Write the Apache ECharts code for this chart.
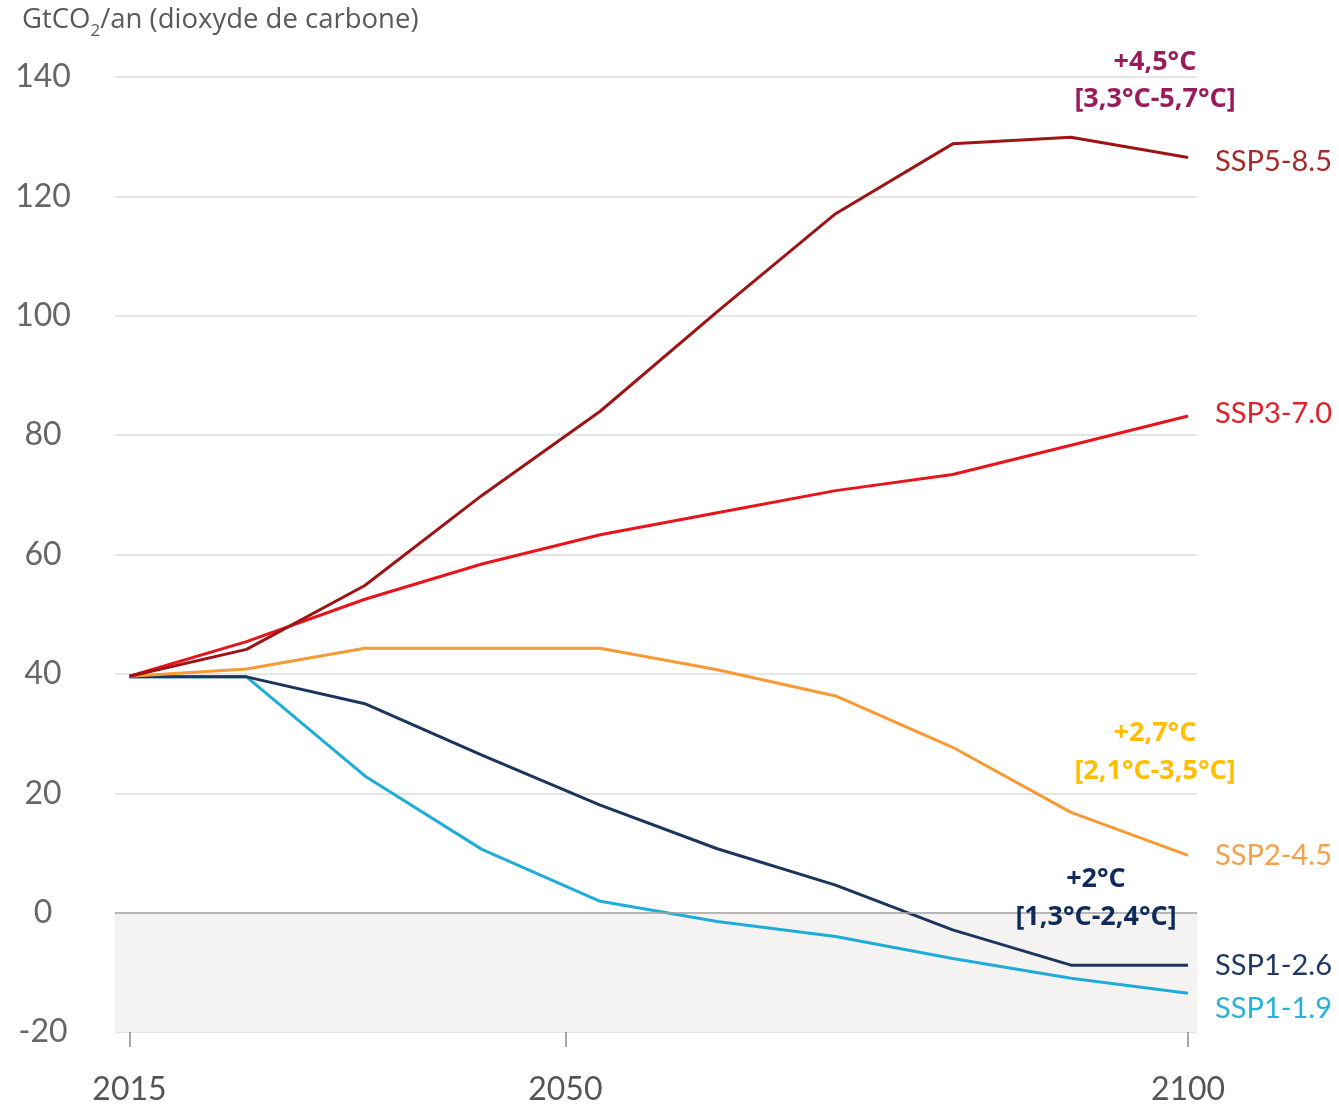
<!DOCTYPE html>
<html>
<head>
<meta charset="utf-8">
<script src="https://cdn.jsdelivr.net/npm/echarts@6/dist/echarts.min.js"></script>
<style>
  html, body { margin: 0; padding: 0; background: #fff; }
  #chart { width: 1339px; height: 1106px; }
</style>
</head>
<body>
<div id="chart"></div>
<script>
// years of the points (points are evenly spaced in the picture)
var years = [2015, 2024.4, 2033.9, 2043.3, 2052.8, 2062.2, 2071.7, 2081.1, 2090.6, 2100];

// GtCO2 / an
var ssp585 = [39.6, 44.1, 54.8, 69.9, 84.0, 100.7, 117.1, 128.8, 129.9, 126.5];
var ssp370 = [39.6, 45.4, 52.5, 58.4, 63.3, 67.0, 70.7, 73.4, 78.3, 83.2];
var ssp245 = [39.6, 40.8, 44.3, 44.3, 44.3, 40.7, 36.3, 27.7, 16.8, 9.6];
var ssp126 = [39.5, 39.5, 35.0, 26.4, 18.0, 10.7, 4.6, -2.9, -8.8, -8.8];
var ssp119 = [39.5, 39.5, 22.9, 10.6, 1.9, -1.5, -4.0, -7.7, -11.0, -13.5];

var xTickYears = [2015, 2020, 2025, 2030, 2035, 2040, 2045, 2050, 2055, 2060,
                  2065, 2070, 2075, 2080, 2085, 2090, 2095, 2100];
var xLabelYears = [2015, 2050, 2100];

var xMin = 2013.84, xMax = 2100.72;

function pts(vals) {
  return vals.map(function (v, i) { return [years[i], v]; });
}

function lineSeries(name, vals, color, labelColor, offset) {
  return {
    name: name,
    type: 'line',
    z: 3,
    data: pts(vals),
    symbol: 'none',
    lineStyle: { color: color, width: 3 },
    emphasis: { disabled: true },
    endLabel: {
      show: true,
      formatter: name,
      color: labelColor,
      fontFamily: 'Lato',
      fontSize: 29,
      distance: 27,
      offset: offset || [0, 0]
    }
  };
}

function note(text, x, y, color) {
  return {
    type: 'text', x: x, y: y, z: 100,
    style: {
      text: text, align: 'center', verticalAlign: 'middle',
      fontFamily: 'Open Sans', fontWeight: 'bold', fontSize: 27, fill: color
    }
  };
}

var chart = echarts.init(document.getElementById('chart'));

var option = {
  animation: false,
  title: {
    left: 17,
    top: 1,
    text: '{a|GtCO}{s|2}{a|/an (dioxyde de carbone)}',
    textStyle: {
      fontWeight: 'normal',
      rich: {
        a: { fontFamily: 'Open Sans', fontWeight: 'normal', fontSize: 27.5, color: '#595959', verticalAlign: 'bottom', padding: [0, 0, 6, 0] },
        s: { fontFamily: 'Open Sans', fontWeight: 'normal', fontSize: 17, color: '#595959', verticalAlign: 'bottom' }
      }
    }
  },
  grid: { left: 115, right: 142, top: 77, bottom: 72 },
  xAxis: [
    {
      type: 'value',
      min: xMin,
      max: xMax,
      axisLine: { show: false },
      splitLine: { show: false },
      axisTick: { show: true, customValues: xTickYears, length: 15, lineStyle: { color: '#d9d9d9', width: 1.5 } },
      axisLabel: { show: false }
    },
    {
      type: 'value',
      position: 'bottom',
      min: xMin,
      max: xMax,
      axisLine: { show: false },
      splitLine: { show: false },
      axisTick: { show: true, customValues: xLabelYears, length: 15, lineStyle: { color: '#8c8c8c', width: 1.5 } },
      axisLabel: {
        customValues: xLabelYears,
        formatter: function (v) { return String(v); },
        fontFamily: 'Lato',
        fontSize: 32,
        color: '#555',
        margin: 42
      }
    }
  ],
  yAxis: {
    type: 'value',
    min: -20,
    max: 140,
    interval: 20,
    axisLine: { show: false },
    axisTick: { show: false },
    splitLine: { lineStyle: { color: '#dcdcdc', width: 1.5 } },
    axisLabel: {
      fontFamily: 'Lato',
      fontSize: 32,
      color: '#666',
      align: 'center',
      margin: 72
    }
  },
  series: [
    {
      type: 'line',
      z: 1,
      data: [],
      silent: true,
      markArea: {
        silent: true,
        itemStyle: { color: '#f4f3f1' },
        data: [[{ xAxis: xMin, yAxis: -20 }, { xAxis: xMax, yAxis: 0 }]]
      },
      markLine: {
        silent: true,
        symbol: 'none',
        label: { show: false },
        lineStyle: { color: '#a6a6a6', width: 1.5, type: 'solid' },
        data: [{ yAxis: 0 }]
      }
    },
    lineSeries('SSP1-1.9', ssp119, '#1fadd8', '#27b2dc', [0, 15]),
    lineSeries('SSP1-2.6', ssp126, '#1c355e', '#203864'),
    lineSeries('SSP2-4.5', ssp245, '#f79a35', '#f7a04a'),
    lineSeries('SSP3-7.0', ssp370, '#e8141c', '#e0202a', [0, -2]),
    lineSeries('SSP5-8.5', ssp585, '#9e1414', '#a52a2a', [0, 4])
  ],
  graphic: [
    note('+4,5°C', 1155, 62, '#9b1a5a'),
    note('[3,3°C-5,7°C]', 1155, 99, '#9b1a5a'),
    note('+2,7°C', 1155, 733, '#ffbf00'),
    note('[2,1°C-3,5°C]', 1155, 771, '#ffbf00'),
    note('+2°C', 1096, 879, '#0f2a5c'),
    note('[1,3°C-2,4°C]', 1096, 917, '#0f2a5c')
  ]
};

chart.setOption(option);
</script>
</body>
</html>
